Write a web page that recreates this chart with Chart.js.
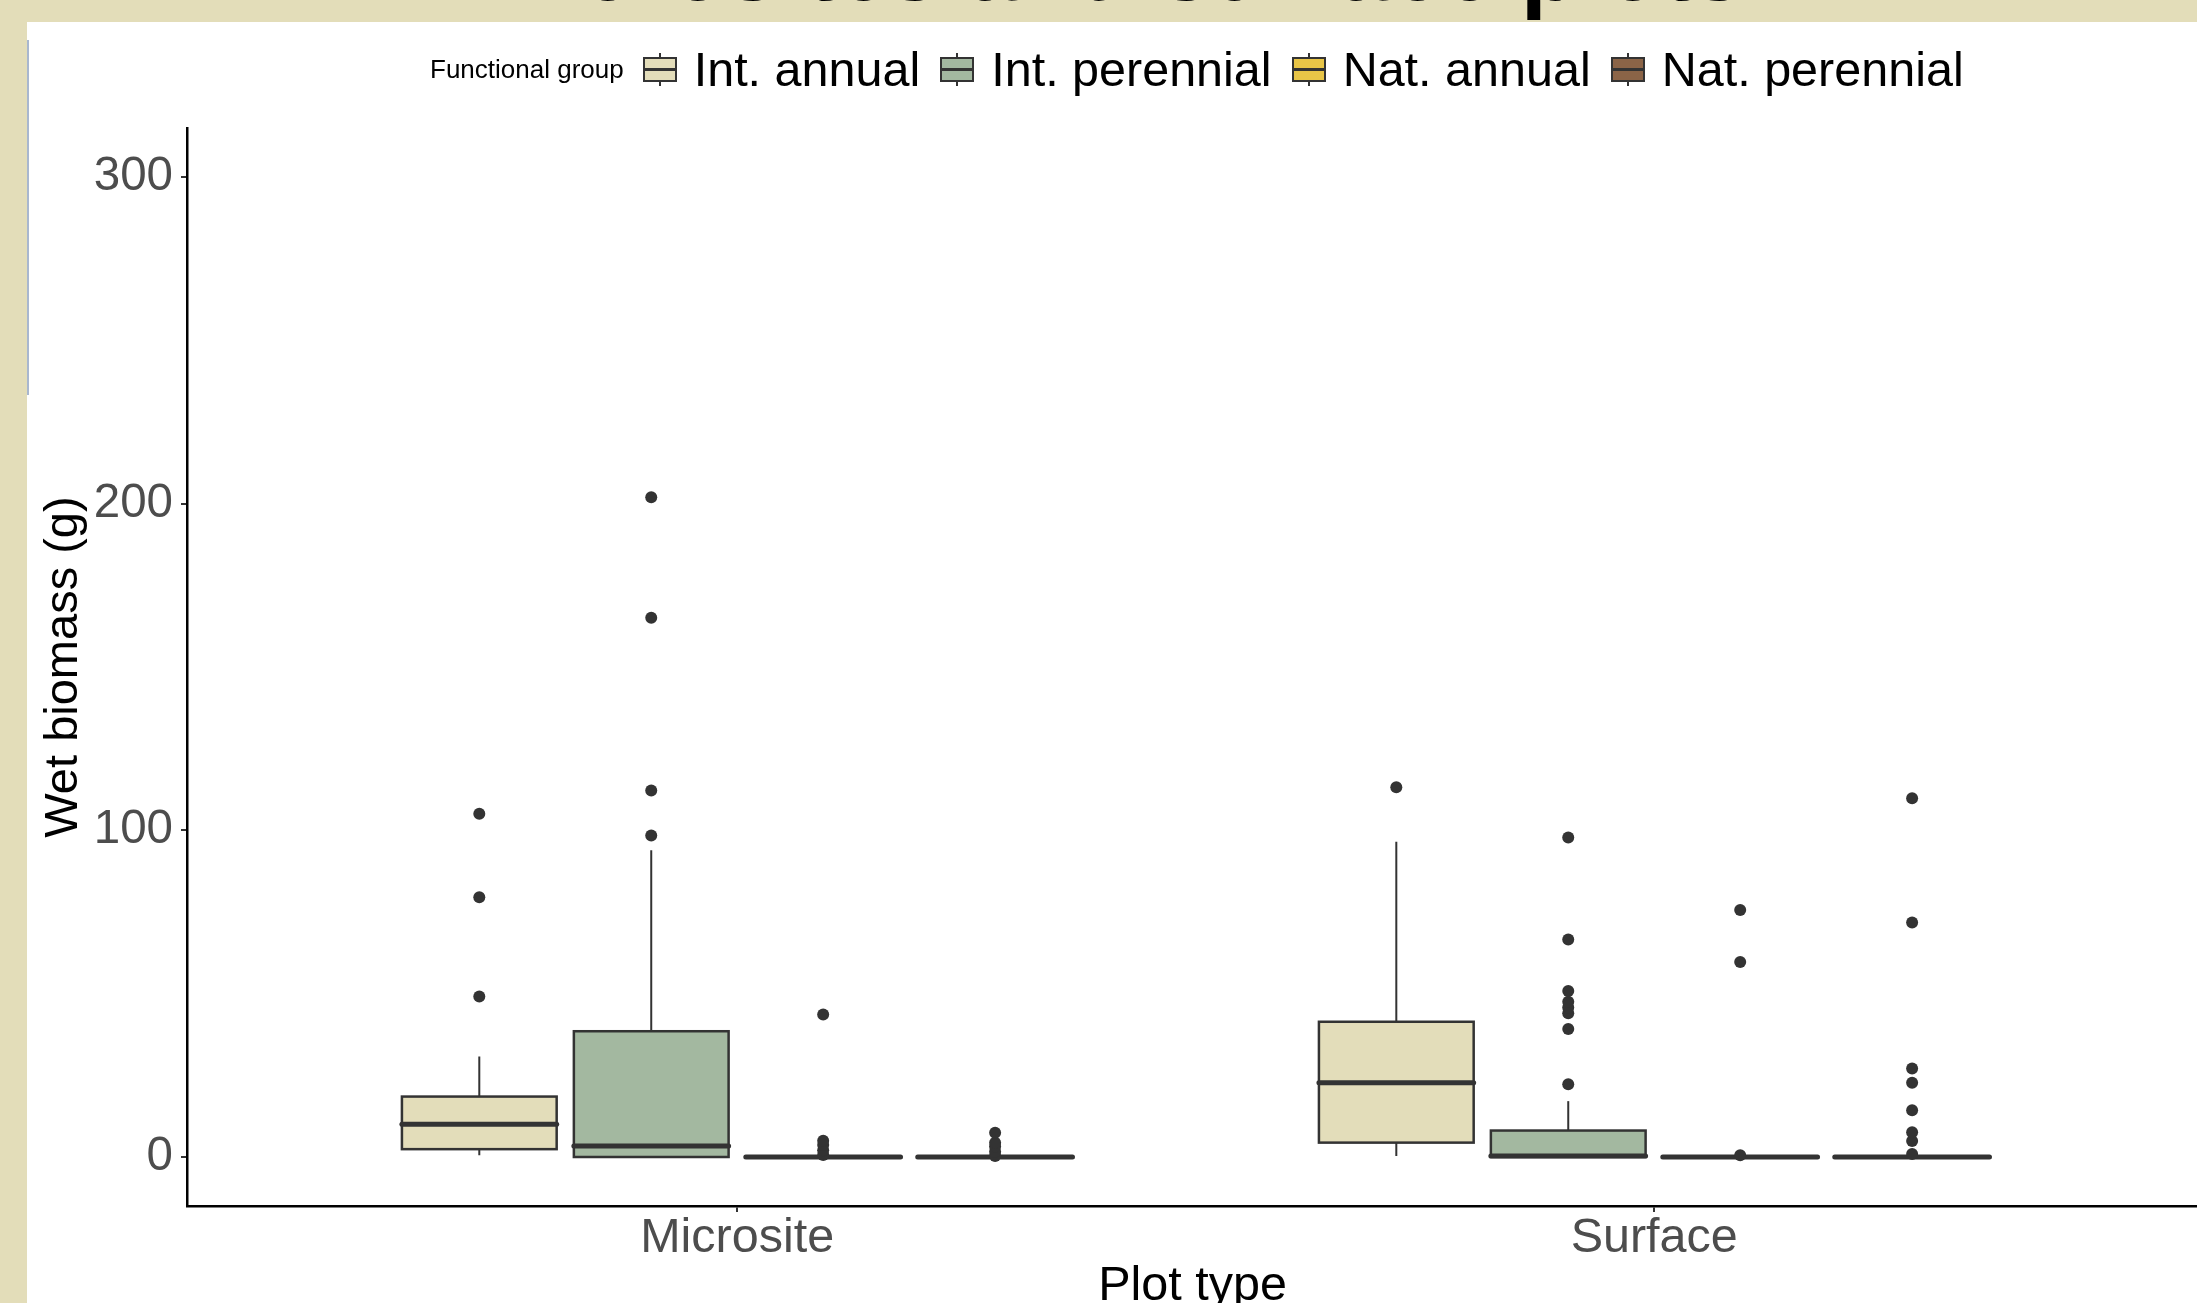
<!DOCTYPE html>
<html>
<head>
<meta charset="utf-8">
<script src="https://cdn.jsdelivr.net/npm/chart.js@4.4.1/dist/chart.umd.min.js"></script>
<style>
  body { margin: 0; width: 2197px; height: 1303px; overflow: hidden; background: #fff; position: relative; font-family: "Liberation Sans", Arial, sans-serif; }
  #chart { position: absolute; left: 0; top: 0; }
  #band { position: absolute; left: 0; top: 0; width: 2197px; height: 22px; background: #E3DDB9; }
  #strip { position: absolute; left: 0; top: 0; width: 27px; height: 1303px; background: #E3DDB9; }
  #edge { position: absolute; left: 27px; top: 40px; width: 2px; height: 355px; background: #a9b7cf; }
  #title { position: absolute; left: 476px; top: -79px; font-weight: bold; font-size: 94px; line-height: 1; white-space: nowrap; color: #000; }
  #legend { position: absolute; left: 430px; top: 46px; height: 46px; display: flex; align-items: center; white-space: nowrap; }
  #legend .ttl { font-size: 26px; line-height: 1; margin-right: 19px; color: #000; }
  #legend .lbl { font-size: 48.5px; line-height: 1; margin-right: 20px; color: #000; }
  #legend .ico { position: relative; width: 34px; height: 33px; margin-right: 17px; }
  #legend .ico .wh { position: absolute; left: 16px; top: 0; width: 2px; height: 33px; background: #333; }
  #legend .ico .bx { position: absolute; left: 0; top: 4px; width: 34px; height: 25px; box-sizing: border-box; border: 2.5px solid #333; }
  #legend .ico .md { position: absolute; left: 0; top: 15px; width: 34px; height: 3px; background: #333; }
</style>
</head>
<body>
<canvas id="chart" width="2204" height="1320"></canvas>
<div id="band"></div>
<div id="strip"></div>
<div id="edge"></div>
<div id="title">Microsites and surface plots</div>
<div id="legend"></div>
<script>
const plotTypes = ['Microsite', 'Surface'];
const groups = ['Int. annual', 'Int. perennial', 'Nat. annual', 'Nat. perennial'];
const groupColors = ['#E3DDBA', '#A3B8A0', '#E8C547', '#8B6447'];
const yTicks = [0, 100, 200, 300];

// [lower whisker, Q1, median, Q3, upper whisker] for Microsite, Surface
const intAnnualStats = [[0.5, 2.4, 10.0, 18.5, 30.8], [0.3, 4.4, 22.7, 41.4, 96.5]];
const intPerennialStats = [[0, 0, 3.4, 38.5, 93.9], [0, 0, 0.3, 8.1, 17.1]];
const natAnnualStats = [[0, 0, 0, 0, 0], [0, 0, 0, 0, 0]];
const natPerennialStats = [[0, 0, 0, 0, 0], [0, 0, 0, 0, 0]];

// outlying points for Microsite, Surface
const intAnnualOutliers = [[49.1, 79.5, 105.1], [113.2]];
const intPerennialOutliers = [[98.4, 112.2, 165.1, 202.0], [22.3, 39.2, 44.0, 45.8, 47.5, 50.8, 66.6, 97.8]];
const natAnnualOutliers = [[0.6, 2.1, 3.7, 5.0, 43.6], [0.5, 59.7, 75.6]];
const natPerennialOutliers = [[0.3, 1.6, 3.2, 4.4, 7.4], [0.9, 4.9, 7.6, 14.3, 22.7, 27.1, 71.8, 109.8]];

const groupStats = [intAnnualStats, intPerennialStats, natAnnualStats, natPerennialStats];
const groupOutliers = [intAnnualOutliers, intPerennialOutliers, natAnnualOutliers, natPerennialOutliers];

// dodge like ggplot: 0.75 wide per category, boxes 90% of their slot
const dodge = 0.75 / groups.length;
const halfBox = dodge * 0.9 / 2;
function boxCenter(pi, gi) {
    return pi + 1 + (gi - (groups.length - 1) / 2) * dodge;
}

const FONT = '"Liberation Sans", Arial, sans-serif';

const boxPlugin = {
    id: 'boxes',
    beforeDatasetsDraw(chart) {
        const {ctx, scales: {x, y}} = chart;
        ctx.save();
        groupStats.forEach((stats, gi) => {
            stats.forEach((s, pi) => {
                const c = boxCenter(pi, gi);
                const cx = x.getPixelForValue(c);
                const xl = x.getPixelForValue(c - halfBox);
                const xr = x.getPixelForValue(c + halfBox);
                const [lo, q1, med, q3, hi] = s.map(v => y.getPixelForValue(v));
                ctx.strokeStyle = '#333';
                ctx.lineWidth = 2;
                ctx.beginPath();
                ctx.moveTo(cx, q3); ctx.lineTo(cx, hi);
                ctx.moveTo(cx, q1); ctx.lineTo(cx, lo);
                ctx.stroke();
                ctx.fillStyle = groupColors[gi];
                ctx.fillRect(xl, q3, xr - xl, q1 - q3);
                ctx.lineWidth = 2.5;
                ctx.strokeRect(xl, q3, xr - xl, q1 - q3);
                ctx.lineWidth = 5;
                ctx.lineCap = 'round';
                ctx.beginPath();
                ctx.moveTo(xl, med); ctx.lineTo(xr, med);
                ctx.stroke();
                ctx.lineCap = 'butt';
            });
        });
        ctx.restore();
    }
};

function buildLegend() {
    const el = document.getElementById('legend');
    let html = '<span class="ttl">Functional group</span>';
    groups.forEach((g, i) => {
        html += '<span class="ico"><span class="wh"></span><span class="bx" style="background:' + groupColors[i] + '"></span><span class="md"></span></span>';
        html += '<span class="lbl">' + g + '</span>';
    });
    el.innerHTML = html;
}

function generateChart() {
    buildLegend();
    const canvas = document.getElementById('chart');
    new Chart(canvas, {
        type: 'scatter',
        data: {
            datasets: groups.map((g, gi) => ({
                label: g,
                data: groupOutliers[gi].flatMap((vals, pi) => vals.map(v => ({x: boxCenter(pi, gi), y: v}))),
                pointRadius: 6,
                pointHoverRadius: 6,
                pointBackgroundColor: '#333',
                pointBorderWidth: 0
            }))
        },
        options: {
            responsive: false,
            animation: false,
            layout: {padding: {top: 128, left: 0, right: 0, bottom: 0}},
            plugins: {legend: {display: false}, tooltip: {enabled: false}},
            scales: {
                x: {
                    type: 'linear',
                    min: 0.4,
                    max: 2.593,
                    afterBuildTicks: s => { s.ticks = plotTypes.map((p, i) => ({value: i + 1})); },
                    afterFit: s => { s.height = 114; },
                    ticks: {
                        callback: v => plotTypes[v - 1],
                        autoSkip: false,
                        maxRotation: 0,
                        padding: -2,
                        color: '#4D4D4D',
                        font: {family: FONT, size: 48.5}
                    },
                    grid: {display: true, drawOnChartArea: false, drawTicks: true, tickLength: 6, color: '#333', lineWidth: 2},
                    border: {display: true, color: '#000', width: 2.5},
                    title: {display: true, text: 'Plot type', color: '#000', font: {family: FONT, size: 48.5}, padding: {top: 0, bottom: 4}}
                },
                y: {
                    min: -15,
                    max: 315,
                    afterBuildTicks: s => { s.ticks = yTicks.map(v => ({value: v})); },
                    afterFit: s => { s.width = 187; },
                    ticks: {
                        padding: 8,
                        color: '#4D4D4D',
                        font: {family: FONT, size: 47.5}
                    },
                    grid: {display: true, drawOnChartArea: false, drawTicks: true, tickLength: 6, color: '#333', lineWidth: 2},
                    border: {display: true, color: '#000', width: 2.5},
                    title: {display: true, text: 'Wet biomass (g)', color: '#000', font: {family: FONT, size: 47}, padding: {top: 36, bottom: 0}}
                }
            }
        },
        plugins: [boxPlugin]
    });
}

document.addEventListener('DOMContentLoaded', () => generateChart());
</script>
</body>
</html>
